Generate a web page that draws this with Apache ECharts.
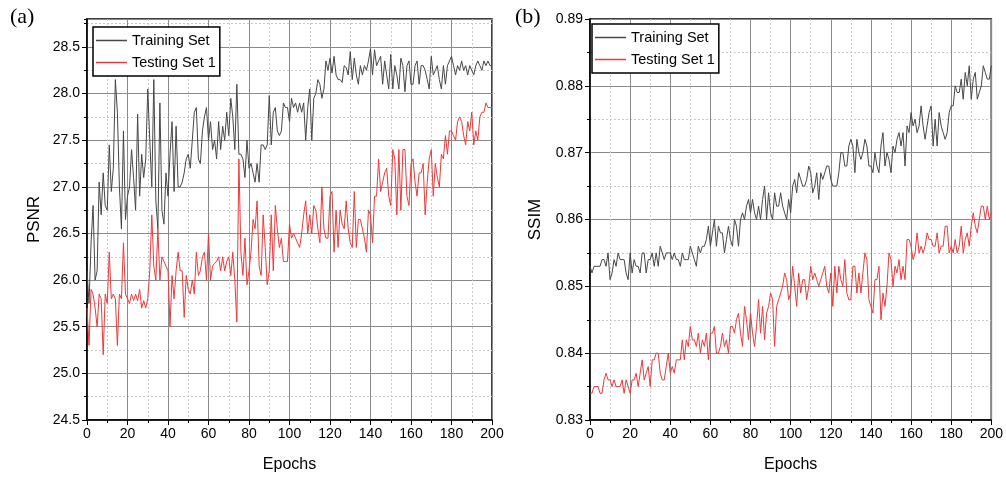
<!DOCTYPE html>
<html>
<head>
<meta charset="utf-8">
<script src="https://cdn.jsdelivr.net/npm/echarts@6/dist/echarts.min.js"></script>
<style>
html,body{margin:0;padding:0;background:#fff;}
#chart{width:1006px;height:478px;}
</style>
</head>
<body>
<div id="chart"></div>
<script>
// ---- Data ----
var seriesNames = ['Training Set', 'Testing Set 1'];
var xTicks = [0, 20, 40, 60, 80, 100, 120, 140, 160, 180, 200];

var psnrTrain = [
26.1, 25.75, 26.4, 26.8, 26.0, 26.1, 27.05, 26.7, 27.15, 26.8,
26.75, 27.45, 26.95, 27.2, 28.15, 27.8, 27.0, 26.55, 27.6, 26.65,
26.9, 27.0, 27.4, 27.1, 26.75, 27.78, 26.9, 27.35, 27.1, 27.3,
28.05, 27.5, 27.0, 28.15, 26.85, 26.55, 27.9, 26.75, 26.6, 27.15,
26.9, 27.35, 27.7, 26.95, 27.65, 27.0, 27.0, 27.05, 27.15, 27.3,
27.35, 27.2, 27.5, 27.8, 27.85, 27.3, 27.25, 27.6, 27.75, 27.85,
27.5, 27.7, 27.4, 27.5, 27.3, 27.7, 27.4, 27.65, 27.5, 27.8,
27.55, 27.95, 27.75, 27.4, 28.1, 27.35, 27.35, 27.3, 27.1, 27.5,
27.2, 27.25, 27.15, 27.05, 27.25, 27.05, 27.45, 27.45, 27.4, 27.45,
27.98, 27.45, 27.8, 27.85, 27.6, 27.55, 27.6, 27.9, 27.85, 27.85,
27.7, 27.95, 27.85, 27.9, 27.8, 27.9, 27.8, 27.9, 27.5, 27.85,
28.05, 27.5, 27.95, 28.0, 28.15, 28.1, 27.95, 28.05, 28.35, 28.25,
28.38, 28.22, 28.4, 28.2, 28.15, 28.15, 28.12, 28.3, 28.28, 28.2,
28.45, 28.15, 28.38, 28.2, 28.1, 28.3, 28.2, 28.3, 28.25, 28.35,
28.48, 28.2, 28.47, 28.3, 28.35, 28.4, 28.1, 28.35, 28.2, 28.05,
28.42, 28.05, 28.3, 28.2, 28.05, 28.38, 28.3, 28.02, 28.3, 28.35,
28.1, 28.1, 28.3, 28.35, 28.1, 28.3, 28.3, 28.25, 28.15, 28.05,
28.4, 28.2, 28.25, 28.3, 28.15, 28.05, 28.3, 28.1, 28.3, 28.35,
28.4, 28.3, 28.2, 28.3, 28.25, 28.35, 28.25, 28.3, 28.2, 28.3,
28.25, 28.2, 28.3, 28.35, 28.3, 28.25, 28.35, 28.3, 28.35, 28.3,
28.3
];

var psnrTest = [
25.7, 25.3, 25.9, 25.85, 25.7, 25.5, 25.85, 25.8, 25.2, 25.85,
25.75, 26.3, 25.8, 25.85, 25.8, 25.3, 25.85, 25.8, 26.4, 25.85,
25.8, 25.75, 25.85, 25.78, 25.85, 25.78, 25.9, 25.7, 25.78, 25.7,
25.8, 26.1, 26.7, 26.15, 26.0, 26.55, 26.0, 26.25, 26.2, 26.15,
26.1, 25.5, 26.05, 25.8, 26.1, 26.3, 26.1, 26.1, 25.6, 26.05,
25.9, 25.85, 26.0, 25.85, 26.3, 26.05, 26.1, 26.25, 26.3, 26.0,
26.5, 26.0, 26.15, 26.18, 26.2, 26.25, 26.1, 26.25, 26.1, 26.2,
26.25, 26.05, 26.3, 26.0, 25.55, 27.3, 26.3, 26.05, 26.45, 25.95,
26.1, 26.3, 26.65, 26.55, 26.85, 26.15, 26.05, 26.7, 26.35, 25.95,
26.1, 26.7, 26.1, 26.8, 26.55, 26.35, 26.45, 26.2, 26.2, 26.2,
26.6, 26.45, 26.5, 26.45, 26.4, 26.35, 26.5, 26.7, 26.85, 26.5,
26.7, 26.5, 26.8, 26.75, 26.55, 26.4, 27.0, 26.55, 26.45, 26.45,
26.9, 26.95, 26.3, 26.75, 26.35, 26.75, 26.6, 26.55, 26.85, 26.55,
26.4, 26.35, 26.95, 26.35, 26.65, 26.65, 26.55, 26.45, 26.3, 26.75,
26.7, 26.4, 26.9, 26.9, 27.3, 26.95, 27.05, 27.15, 27.2, 26.9,
26.8, 27.4, 27.3, 26.7, 27.4, 26.75, 27.4, 27.4, 26.9, 26.8,
27.25, 27.3, 27.05, 26.9, 27.15, 27.15, 27.25, 26.7, 27.05, 27.3,
27.4, 26.9, 27.25, 27.1, 27.0, 27.35, 27.3, 27.55, 27.35, 27.6,
27.6, 27.55, 27.5, 27.7, 27.75, 27.7, 27.55, 27.45, 27.7, 27.6,
27.8, 27.45, 27.6, 27.5, 27.75, 27.8, 27.8, 27.9, 27.85, 27.85,
27.85
];

var ssimTrain = [
0.853, 0.852, 0.853, 0.853, 0.853, 0.853, 0.854, 0.854, 0.853, 0.855,
0.851, 0.852, 0.854, 0.853, 0.855, 0.854, 0.854, 0.854, 0.852, 0.851,
0.855, 0.852, 0.854, 0.853, 0.853, 0.852, 0.855, 0.855, 0.852, 0.854,
0.854, 0.855, 0.853, 0.855, 0.853, 0.856, 0.855, 0.854, 0.855, 0.855,
0.855, 0.854, 0.855, 0.854, 0.854, 0.853, 0.855, 0.854, 0.854, 0.854,
0.856, 0.855, 0.854, 0.853, 0.856, 0.855, 0.856, 0.856, 0.857, 0.859,
0.856, 0.858, 0.860, 0.856, 0.859, 0.858, 0.858, 0.855, 0.857, 0.859,
0.857, 0.856, 0.860, 0.859, 0.856, 0.860, 0.861, 0.860, 0.862, 0.863,
0.861, 0.863, 0.861, 0.860, 0.862, 0.860, 0.863, 0.865, 0.860, 0.864,
0.861, 0.860, 0.864, 0.862, 0.862, 0.864, 0.862, 0.861, 0.860, 0.863,
0.861, 0.865, 0.866, 0.864, 0.867, 0.866, 0.865, 0.865, 0.866, 0.868,
0.867, 0.864, 0.865, 0.867, 0.863, 0.867, 0.866, 0.867, 0.868, 0.868,
0.866, 0.865, 0.865, 0.865, 0.867, 0.870, 0.870, 0.868, 0.868, 0.871,
0.872, 0.871, 0.867, 0.872, 0.870, 0.869, 0.870, 0.872, 0.871, 0.868,
0.868, 0.867, 0.870, 0.868, 0.867, 0.871, 0.873, 0.868, 0.870, 0.869,
0.867, 0.871, 0.870, 0.872, 0.873, 0.871, 0.873, 0.868, 0.874, 0.873,
0.876, 0.874, 0.875, 0.873, 0.874, 0.877, 0.874, 0.872, 0.874, 0.876,
0.877, 0.871, 0.875, 0.871, 0.876, 0.874, 0.873, 0.872, 0.873, 0.876,
0.877, 0.877, 0.880, 0.879, 0.879, 0.881, 0.878, 0.882, 0.880, 0.883,
0.878, 0.881, 0.882, 0.878, 0.879, 0.880, 0.883, 0.882, 0.881, 0.881,
0.883
];

var ssimTest = [
0.834, 0.834, 0.835, 0.835, 0.835, 0.834, 0.834, 0.836, 0.837, 0.836,
0.836, 0.835, 0.836, 0.835, 0.835, 0.835, 0.836, 0.834, 0.836, 0.835,
0.834, 0.836, 0.836, 0.837, 0.835, 0.837, 0.839, 0.836, 0.837, 0.838,
0.835, 0.839, 0.839, 0.840, 0.840, 0.837, 0.836, 0.836, 0.838, 0.840,
0.837, 0.838, 0.837, 0.839, 0.839, 0.839, 0.842, 0.839, 0.842, 0.841,
0.844, 0.842, 0.842, 0.841, 0.843, 0.840, 0.842, 0.841, 0.843, 0.839,
0.843, 0.843, 0.844, 0.840, 0.840, 0.841, 0.843, 0.841, 0.842, 0.840,
0.844, 0.844, 0.843, 0.845, 0.846, 0.843, 0.841, 0.847, 0.845, 0.842,
0.846, 0.843, 0.841, 0.844, 0.848, 0.843, 0.847, 0.842, 0.846, 0.847,
0.849, 0.848, 0.841, 0.847, 0.848, 0.849, 0.850, 0.852, 0.851, 0.848,
0.849, 0.853, 0.850, 0.847, 0.852, 0.849, 0.851, 0.851, 0.848, 0.850,
0.853, 0.851, 0.852, 0.851, 0.850, 0.851, 0.852, 0.853, 0.850, 0.849,
0.852, 0.847, 0.853, 0.849, 0.853, 0.851, 0.850, 0.854, 0.849, 0.848,
0.848, 0.853, 0.853, 0.849, 0.852, 0.849, 0.852, 0.855, 0.854, 0.848,
0.847, 0.846, 0.851, 0.851, 0.853, 0.845, 0.849, 0.847, 0.850, 0.855,
0.854, 0.850, 0.853, 0.852, 0.854, 0.851, 0.853, 0.851, 0.857, 0.857,
0.856, 0.854, 0.855, 0.858, 0.855, 0.856, 0.855, 0.856, 0.858, 0.857,
0.857, 0.856, 0.856, 0.858, 0.855, 0.856, 0.856, 0.859, 0.859, 0.855,
0.856, 0.855, 0.857, 0.855, 0.856, 0.859, 0.855, 0.857, 0.858, 0.856,
0.859, 0.861, 0.859, 0.858, 0.860, 0.862, 0.862, 0.860, 0.862, 0.860,
0.861
];

// ---- Build ----
function pairs(arr){ return arr.map(function(v,i){ return [i, v]; }); }

var FONT = '"Liberation Sans", Arial, sans-serif';
var trainColor = '#474747';
var testColor = '#f0383a';
var majorGrid = '#8a8a8a';
var minorGrid = '#c9c9c9';

function xAxisCfg(gi){
  return {
    type:'value', gridIndex:gi, min:0, max:200, interval:20, position:'bottom',
    axisLine:{show:true, onZero:false, lineStyle:{color:'#000', width:1.5}},
    axisTick:{show:true, inside:false, length:5, lineStyle:{color:'#000'}},
    minorTick:{show:true, splitNumber:2, length:3, lineStyle:{color:'#000'}},
    axisLabel:{color:'#000', fontFamily:FONT, fontSize:14, margin:7},
    splitLine:{show:true, lineStyle:{color:majorGrid, width:1}},
    minorSplitLine:{show:true, lineStyle:{color:minorGrid, type:[2,2], width:1}},
    name:'Epochs', nameLocation:'middle', nameGap:37,
    nameTextStyle:{color:'#000', fontFamily:FONT, fontSize:16}
  };
}

function legendCfg(left, top){
  return {
    left:left, top:top, orient:'vertical', data:seriesNames,
    icon:'rect', itemWidth:31, itemHeight:1.5, itemGap:7,
    backgroundColor:'#fff', borderColor:'#000', borderWidth:1.5, borderRadius:0,
    padding:[6,4,6,3],
    textStyle:{color:'#000', fontFamily:FONT, fontSize:14.5, padding:[2,0,2,0]}
  };
}

var chart = echarts.init(document.getElementById('chart'), null, {renderer:'canvas'});

var option = {
  animation:false,
  backgroundColor:'#fff',
  grid:[
    {left:87, top:19, width:405, height:404, show:true, borderColor:'#000', borderWidth:1.5, backgroundColor:'transparent'},
    {left:590, top:19, width:406, height:405, show:true, borderColor:'#000', borderWidth:1.5, backgroundColor:'transparent'}
  ],
  xAxis:[ xAxisCfg(0), xAxisCfg(1) ],
  yAxis:[
    // left: minor dotted lines every 0.25
    {type:'value', gridIndex:0, position:'left', min:24.5, max:28.8, interval:0.25,
     axisLine:{show:false}, axisTick:{show:true, length:3, lineStyle:{color:'#000'}},
     axisLabel:{show:false},
     splitLine:{show:true, lineStyle:{color:minorGrid, type:[2,2], width:1}}},
    // left: major solid lines every 0.5 with labels
    {type:'value', gridIndex:0, position:'left', offset:0, min:24.5, max:28.8, interval:0.5,
     axisLine:{show:true, onZero:false, lineStyle:{color:'#000', width:1.5}},
     axisTick:{show:true, length:5, lineStyle:{color:'#000'}},
     axisLabel:{color:'#000', fontFamily:FONT, fontSize:14, margin:7, showMaxLabel:false,
       formatter:function(v){ return v.toFixed(1); }},
     splitLine:{show:true, lineStyle:{color:majorGrid, width:1}},
     name:'PSNR', nameLocation:'middle', nameGap:44,
     nameTextStyle:{color:'#000', fontFamily:FONT, fontSize:17}},
    // right SSIM
    {type:'value', gridIndex:1, position:'left', min:0.83, max:0.89, interval:0.01,
     axisLine:{show:true, onZero:false, lineStyle:{color:'#000', width:1.5}},
     axisTick:{show:true, length:5, lineStyle:{color:'#000'}},
     minorTick:{show:true, splitNumber:2, length:3, lineStyle:{color:'#000'}},
     axisLabel:{color:'#000', fontFamily:FONT, fontSize:14, margin:7,
       formatter:function(v){ return v.toFixed(2); }},
     splitLine:{show:true, lineStyle:{color:majorGrid, width:1}},
     minorSplitLine:{show:true, lineStyle:{color:minorGrid, type:[2,2], width:1}},
     name:'SSIM', nameLocation:'middle', nameGap:46,
     nameTextStyle:{color:'#000', fontFamily:FONT, fontSize:17}}
  ],
  legend:[ legendCfg(93, 27), legendCfg(592, 24) ],
  graphic:[
    {type:'text', left:10, top:6, style:{text:'(a)', font:'22px "Liberation Serif", "Times New Roman", serif', fill:'#000'}},
    {type:'text', left:515, top:6, style:{text:'(b)', font:'22px "Liberation Serif", "Times New Roman", serif', fill:'#000'}}
  ],
  series:[
    {name:seriesNames[0], type:'line', xAxisIndex:0, yAxisIndex:1, data:pairs(psnrTrain),
     showSymbol:false, symbol:'none', lineStyle:{color:trainColor, width:1}, itemStyle:{color:trainColor}, z:3},
    {name:seriesNames[1], type:'line', xAxisIndex:0, yAxisIndex:1, data:pairs(psnrTest),
     showSymbol:false, symbol:'none', lineStyle:{color:testColor, width:1}, itemStyle:{color:testColor}, z:3},
    {name:seriesNames[0], type:'line', xAxisIndex:1, yAxisIndex:2, data:pairs(ssimTrain),
     showSymbol:false, symbol:'none', lineStyle:{color:trainColor, width:1}, itemStyle:{color:trainColor}, z:3},
    {name:seriesNames[1], type:'line', xAxisIndex:1, yAxisIndex:2, data:pairs(ssimTest),
     showSymbol:false, symbol:'none', lineStyle:{color:testColor, width:1}, itemStyle:{color:testColor}, z:3}
  ]
};
chart.setOption(option);
</script>
</body>
</html>
